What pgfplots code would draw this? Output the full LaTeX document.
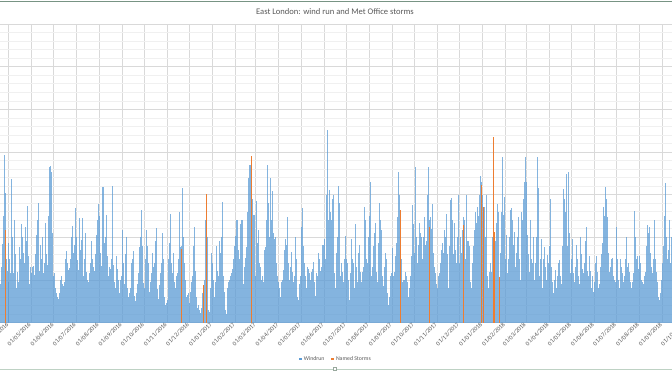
\documentclass[border=0pt]{standalone}
\usepackage{pgfplots}
\pgfplotsset{compat=1.18}
\usepackage{fontspec}
\setmainfont{Carlito}
\definecolor{wblue}{RGB}{91,155,213}
\definecolor{sorange}{RGB}{237,125,49}
\definecolor{txtgray}{RGB}{89,89,89}
\definecolor{gridgray}{RGB}{217,217,217}
\definecolor{minorgray}{RGB}{240,240,240}
\definecolor{frametop}{RGB}{120,148,132}
\definecolor{framebot}{RGB}{190,210,196}
\pgfplotsset{
  wr/.style={ycomb, draw=wblue, draw opacity=0.75, line width=0.42bp, no marks, forget plot},
  st/.style={ycomb, draw=sorange, line width=0.6bp, no marks, forget plot},
  /pgfplots/table/mon/.style={x expr=\coordindex+#1, y index=0, header=false, row sep=\\},
}
\begin{document}
\begin{tikzpicture}
\useasboundingbox (0,0) rectangle (672bp,372bp);
\clip (0,0) rectangle (672bp,372bp);
\fill[white] (0,0) rectangle (672bp,372bp);
\draw[frametop, line width=0.8bp] (0,370.3bp) -- (672bp,370.3bp);
\draw[framebot, line width=0.8bp] (0,3bp) -- (672bp,3bp);
\draw[framebot!80!black, line width=0.4bp, fill=white] (333.5bp,1.5bp) rectangle (336.5bp,4.5bp);
\node[font=\fontsize{8.6}{10}\selectfont, text=txtgray] at (335bp,360bp) {East London: wind run and Met Office storms};
\begin{axis}[
  at={(0bp,49.5bp)}, anchor=south west,
  scale only axis, width=672bp, height=298.5bp,
  xmin=-11.62, xmax=896.4, ymin=0, ymax=700,
  axis line style={draw=none},
  major tick length=0pt, minor tick length=0pt,
  xtick={0,30,61,91,122,153,183,214,244,275,306,334,365,395,426,456,487,518,548,579,609,640,671,699,730,760,791,821,852,883},
  xticklabels={01/04/2016,01/05/2016,01/06/2016,01/07/2016,01/08/2016,01/09/2016,01/10/2016,01/11/2016,01/12/2016,01/01/2017,01/02/2017,01/03/2017,01/04/2017,01/05/2017,01/06/2017,01/07/2017,01/08/2017,01/09/2017,01/10/2017,01/11/2017,01/12/2017,01/01/2018,01/02/2018,01/03/2018,01/04/2018,01/05/2018,01/06/2018,01/07/2018,01/08/2018,01/09/2018},
  ytick={0,100,...,700}, yticklabels={},
  minor y tick num=4,
  xmajorgrids, ymajorgrids, yminorgrids,
  major grid style={gridgray, line width=0.6bp},
  minor grid style={minorgray, line width=0.5bp},
  xticklabel style={rotate=45, anchor=east, font=\fontsize{6.2}{7}\selectfont, text=txtgray, inner sep=1.5bp},
  legend style={at={(0.5,-0.1223)}, anchor=center, draw=none, fill=none, legend columns=2,
    font=\fontsize{5.8}{6}\selectfont, text=txtgray,
    /tikz/every even column/.append style={column sep=5bp}},
  legend image code/.code={\fill (0bp,-1.3bp) rectangle (2.6bp,1.3bp);},
]
\addlegendimage{fill=wblue, draw=none}
\addlegendentry{Windrun}
\addlegendimage{fill=sorange, draw=none}
\addlegendentry{Named Storms}
% March 2016 (from 20/03)
\addplot[wr] table[mon=-12] {90\\70\\130\\60\\185\\250\\393\\304\\260\\150\\120\\95\\};
% April 2016
\addplot[wr] table[mon=0] {186\\150\\115\\210\\336\\200\\115\\140\\240\\160\\80\\95\\119\\96\\130\\178\\150\\230\\201\\182\\163\\140\\182\\225\\190\\273\\155\\108\\90\\130\\};
% May 2016
\addplot[wr] table[mon=30] {92\\115\\130\\133\\85\\112\\160\\205\\150\\240\\281\\120\\85\\182\\150\\201\\201\\115\\140\\230\\234\\160\\135\\200\\250\\365\\367\\353\\280\\210\\110\\};
% June 2016
\addplot[wr] table[mon=61] {115\\100\\80\\70\\52\\60\\56\\52\\70\\99\\108\\90\\62\\85\\96\\120\\150\\167\\140\\124\\84\\128\\150\\186\\200\\226\\163\\140\\182\\268\\};
% July 2016
\addplot[wr] table[mon=91] {200\\178\\147\\123\\225\\245\\170\\193\\245\\155\\108\\150\\210\\201\\119\\100\\80\\96\\115\\139\\160\\190\\150\\130\\95\\120\\160\\193\\205\\240\\277\\};
% August 2016
\addplot[wr] table[mon=122] {250\\193\\163\\133\\200\\318\\318\\186\\163\\200\\252\\155\\108\\90\\130\\125\\80\\150\\320\\135\\108\\95\\80\\140\\155\\125\\100\\70\\60\\99\\110\\};
% September 2016
\addplot[wr] table[mon=153] {180\\218\\140\\90\\110\\160\\200\\80\\60\\52\\70\\80\\130\\140\\150\\168\\115\\62\\50\\60\\70\\90\\115\\140\\178\\200\\264\\180\\115\\92\\};
% October 2016
\addplot[wr] table[mon=183] {80\\108\\150\\217\\180\\139\\90\\72\\78\\96\\115\\163\\130\\115\\140\\190\\222\\150\\78\\55\\70\\88\\115\\140\\170\\210\\150\\60\\40\\35\\45\\};
% November 2016
\addplot[wr] table[mon=214] {52\\90\\150\\186\\254\\180\\139\\115\\163\\130\\96\\80\\90\\108\\115\\150\\260\\210\\178\\180\\172\\315\\200\\139\\100\\80\\60\\55\\65\\70\\};
% December 2016
\addplot[wr] table[mon=244] {45\\52\\72\\96\\110\\130\\180\\223\\120\\60\\40\\35\\40\\30\\25\\22\\35\\45\\70\\88\\100\\150\\240\\280\\200\\60\\30\\25\\40\\80\\163\\};
% January 2017
\addplot[wr] table[mon=275] {139\\100\\72\\60\\96\\150\\179\\120\\110\\140\\192\\163\\200\\283\\240\\110\\50\\72\\30\\20\\40\\80\\96\\100\\108\\110\\115\\125\\139\\150\\180\\};
% February 2017
\addplot[wr] table[mon=306] {203\\139\\240\\240\\170\\115\\150\\231\\241\\241\\100\\90\\108\\130\\152\\178\\200\\260\\338\\369\\300\\370\\385\\290\\252\\200\\252\\108\\};
% March 2017
\addplot[wr] table[mon=334] {286\\163\\186\\217\\139\\108\\130\\80\\100\\108\\96\\130\\170\\178\\240\\369\\334\\280\\201\\190\\338\\240\\309\\210\\201\\196\\200\\139\\108\\110\\96\\};
% April 2017
\addplot[wr] table[mon=365] {80\\72\\60\\75\\96\\100\\123\\150\\170\\196\\182\\160\\247\\139\\100\\96\\130\\165\\119\\96\\80\\110\\200\\150\\110\\60\\52\\70\\90\\110\\};
% May 2017
\addplot[wr] table[mon=395] {115\\224\\268\\180\\140\\135\\110\\80\\119\\130\\125\\115\\80\\100\\119\\125\\143\\130\\96\\62\\80\\115\\108\\125\\163\\150\\120\\100\\130\\182\\182\\};
% June 2017
\addplot[wr] table[mon=426] {170\\196\\150\\300\\451\\186\\240\\311\\260\\178\\240\\290\\299\\139\\115\\80\\96\\163\\200\\250\\321\\280\\108\\100\\139\\119\\96\\80\\150\\203\\};
% July 2017
\addplot[wr] table[mon=456] {150\\108\\139\\100\\52\\80\\115\\196\\150\\139\\96\\80\\150\\231\\130\\96\\163\\139\\182\\119\\96\\80\\119\\130\\210\\271\\240\\150\\139\\115\\200\\};
% August 2017
\addplot[wr] table[mon=487] {250\\329\\160\\108\\130\\139\\180\\210\\233\\200\\119\\96\\80\\186\\280\\240\\217\\150\\108\\85\\96\\130\\163\\150\\70\\52\\40\\60\\96\\110\\115\\};
% September 2017
\addplot[wr] table[mon=518] {174\\150\\108\\119\\139\\155\\186\\248\\280\\354\\300\\250\\150\\108\\96\\100\\80\\100\\119\\110\\96\\70\\60\\80\\100\\108\\155\\200\\275\\230\\};
% October 2017
\addplot[wr] table[mon=548] {163\\280\\365\\200\\140\\160\\182\\233\\210\\201\\163\\150\\200\\247\\220\\182\\190\\271\\300\\365\\240\\230\\248\\220\\217\\277\\163\\130\\115\\100\\90\\};
% November 2017
\addplot[wr] table[mon=579] {80\\96\\108\\115\\139\\150\\170\\186\\163\\217\\186\\201\\254\\160\\100\\80\\110\\180\\287\\291\\240\\190\\160\\233\\170\\120\\139\\200\\299\\150\\};
% December 2017
\addplot[wr] table[mon=609] {139\\200\\150\\163\\217\\247\\240\\120\\150\\160\\299\\190\\190\\180\\119\\96\\80\\70\\139\\180\\217\\260\\240\\233\\271\\250\\248\\300\\343\\303\\330\\};
% January 2018
\addplot[wr] table[mon=640] {300\\260\\271\\250\\201\\299\\182\\110\\80\\96\\119\\139\\119\\150\\200\\406\\210\\139\\190\\233\\279\\260\\240\\105\\163\\200\\260\\389\\252\\295\\200\\};
% February 2018
\addplot[wr] table[mon=671] {150\\182\\205\\115\\150\\163\\200\\264\\268\\240\\150\\182\\213\\108\\130\\163\\200\\248\\230\\150\\100\\160\\260\\240\\217\\290\\330\\389\\};
% March 2018
\addplot[wr] table[mon=699] {330\\248\\205\\160\\119\\100\\240\\150\\115\\140\\200\\100\\90\\139\\200\\387\\315\\150\\108\\150\\196\\120\\80\\110\\150\\176\\130\\100\\80\\158\\140\\};
% April 2018
\addplot[wr] table[mon=730] {150\\180\\289\\130\\96\\60\\70\\100\\123\\96\\80\\108\\119\\139\\146\\108\\80\\90\\180\\250\\312\\290\\260\\348\\201\\180\\352\\210\\139\\115\\};
% May 2018
\addplot[wr] table[mon=760] {150\\196\\139\\115\\96\\80\\130\\182\\150\\110\\72\\90\\130\\200\\160\\125\\100\\115\\139\\190\\225\\163\\120\\108\\140\\155\\120\\80\\96\\108\\72\\};
% June 2018
\addplot[wr] table[mon=791] {96\\120\\140\\155\\119\\96\\80\\90\\108\\130\\160\\186\\230\\270\\250\\318\\290\\201\\248\\163\\119\\108\\130\\150\\152\\130\\108\\100\\96\\80\\};
% July 2018
\addplot[wr] table[mon=821] {225\\150\\115\\100\\80\\108\\148\\130\\115\\96\\80\\108\\150\\200\\150\\130\\139\\119\\100\\96\\80\\70\\96\\115\\170\\262\\200\\150\\155\\139\\125\\};
% August 2018
\addplot[wr] table[mon=852] {155\\139\\115\\100\\96\\80\\90\\108\\119\\130\\180\\228\\210\\200\\225\\163\\130\\115\\100\\150\\182\\240\\150\\119\\96\\80\\60\\52\\50\\70\\100\\};
% September 2018
\addplot[wr] table[mon=883] {139\\155\\180\\250\\327\\200\\163\\150\\170\\240\\150\\139\\180\\200\\};
% Named storms
\addplot[st] table[x index=0, y index=1, header=false, row sep=\\] {
-4 217\\ 234 172\\ 263 88\\ 267 301\\ 328 390\\ 529 264\\ 569 225\\ 615 228\\ 639 322\\ 642 270\\ 655 434\\ 656 213\\ 663 107\\};
\end{axis}
\node[rotate=45, anchor=east, font=\fontsize{6.2}{7}\selectfont, text=txtgray, inner sep=1.5bp] at (684.3bp,49.5bp) {01/10/2018};
\end{tikzpicture}
\end{document}
